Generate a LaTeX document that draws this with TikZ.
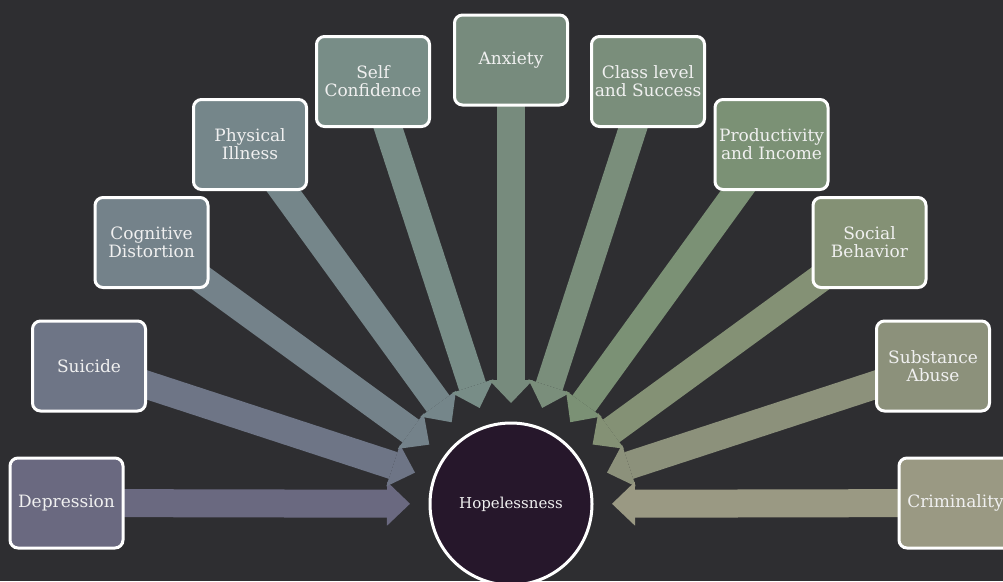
\documentclass[tikz,border=0pt]{standalone}
\usepackage{fontspec}
\setmainfont{DejaVu Serif}
\usetikzlibrary{arrows.meta,backgrounds}

\definecolor{bg}{RGB}{46,46,49}
\definecolor{hopefill}{RGB}{38,23,43}
\definecolor{cDep}{RGB}{106,105,128}
\definecolor{cSui}{RGB}{110,117,134}
\definecolor{cCog}{RGB}{116,130,138}
\definecolor{cPhy}{RGB}{117,134,138}
\definecolor{cSel}{RGB}{120,141,135}
\definecolor{cAnx}{RGB}{119,139,125}
\definecolor{cCla}{RGB}{122,142,123}
\definecolor{cPro}{RGB}{123,145,117}
\definecolor{cSoc}{RGB}{132,145,117}
\definecolor{cSub}{RGB}{140,145,123}
\definecolor{cCri}{RGB}{154,153,131}

\tikzset{
  causebox/.style={draw=white, line width=3pt, rounded corners=8pt,
    minimum width=113pt, minimum height=90pt, inner sep=1pt,
    align=center, text=white!94!black, font=\fontsize{17}{18}\selectfont},
  hopecircle/.style={circle, draw=white, line width=3pt, fill=hopefill,
    minimum size=162pt, text=white!94!black, font=\fontsize{15}{16}\selectfont},
  blockarrow/.style={line width=28pt,
    -{Triangle[length=23pt,width=44pt,line width=0pt]}, shorten >=18.5pt}
}

\begin{document}
\begin{tikzpicture}[x=1pt,y=-1pt]
  \useasboundingbox (0,0) rectangle (1003,581);
  % centre
  \node[hopecircle] (hope) at (511,504) {Hopelessness};
  % causes, left to right
  \node[causebox,fill=cDep] (dep) at (66.5,503) {Depression};
  \node[causebox,fill=cSui] (sui) at (89,366) {Suicide};
  \node[causebox,fill=cCog] (cog) at (151.5,242.5) {Cognitive\\Distortion};
  \node[causebox,fill=cPhy] (phy) at (250,144.5) {Physical\\Illness};
  \node[causebox,fill=cSel] (sel) at (373,81.5) {Self\\Confidence};
  \node[causebox,fill=cAnx] (anx) at (511,60) {Anxiety};
  \node[causebox,fill=cCla] (cla) at (648,81.5) {Class level\\and Success};
  \node[causebox,fill=cPro] (pro) at (771.5,144.5) {Productivity\\and Income};
  \node[causebox,fill=cSoc] (soc) at (869.5,242.5) {Social\\Behavior};
  \node[causebox,fill=cSub] (sub) at (933,366) {Substance\\Abuse};
  \node[causebox,fill=cCri] (cri) at (955.5,503) {Criminality};
  % arrows behind the boxes
  \begin{scope}[on background layer]
    \fill[bg] (0,0) rectangle (1003,581);
    \foreach \n/\c in {dep/cDep,sui/cSui,cog/cCog,phy/cPhy,sel/cSel,anx/cAnx,
                       cla/cCla,pro/cPro,soc/cSoc,sub/cSub,cri/cCri}
      \draw[blockarrow,draw=\c,fill=\c] (\n.center) -- (hope);
  \end{scope}
\end{tikzpicture}
\end{document}
